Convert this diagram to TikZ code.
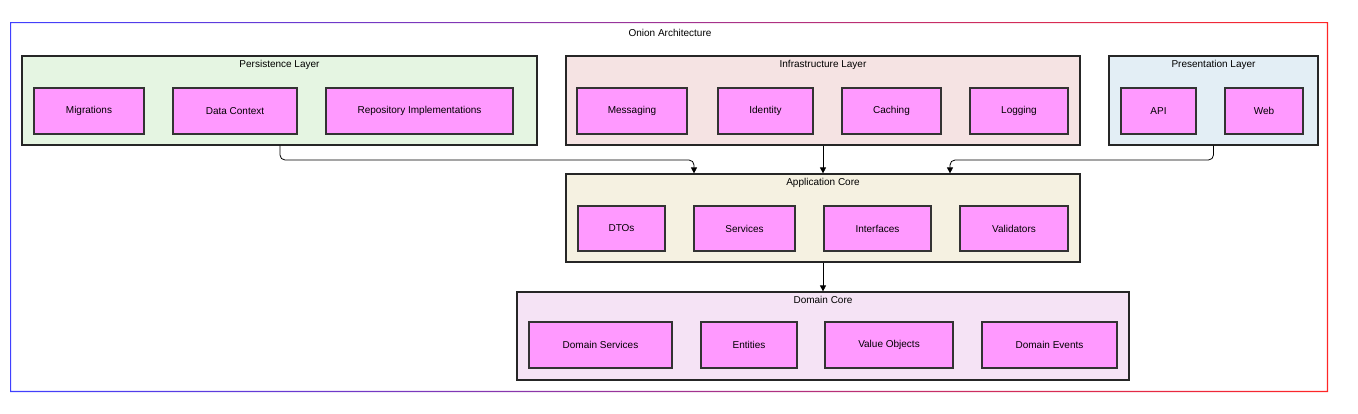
\documentclass[tikz,border=0pt]{standalone}
\usepackage{fontspec}
\setmainfont{Liberation Sans}
\usetikzlibrary{arrows.meta}
\definecolor{compfill}{HTML}{FF99FF}
\definecolor{persfill}{HTML}{E5F5E2}
\definecolor{infrafill}{HTML}{F5E3E3}
\definecolor{presfill}{HTML}{E3EEF5}
\definecolor{appfill}{HTML}{F5F1E1}
\definecolor{domfill}{HTML}{F5E3F5}
\tikzset{
  layer/.style={draw=black!85, line width=1.2pt, inner sep=0pt},
  comp/.style={draw=black!80, line width=1.5pt, fill=compfill, inner sep=0pt},
  title/.style={font=\fontsize{10}{12}\selectfont},
  link/.style={-{Triangle[length=6pt,width=6pt]}, line width=0.8pt, rounded corners=5pt}
}
\newcommand{\boxat}[6]{% name, x1, y1, x2, y2, style
  \node[#6, minimum width={#4-#2}, minimum height={#5-#3}] (#1) at ({(#2+#4)/2},{(#3+#5)/2}) {};}
\begin{document}
\begin{tikzpicture}[x=1pt,y=-1pt, font=\fontsize{10}{12}\selectfont]
		\useasboundingbox (0,0) rectangle (1358,413);
		\shade[left color=blue!75, right color=red!85, even odd rule]
			(10,22) rectangle (1328,392) (11.2,23.2) rectangle (1326.8,390.8);
		\node[title] (onion) at (670,33) {Onion Architecture};
		
		% layers
		\boxat{pers}{22}{56}{537}{145}{layer, fill=persfill}
		\boxat{infra}{566}{56}{1080}{145}{layer, fill=infrafill}
		\boxat{pres}{1109}{56}{1318}{145}{layer, fill=presfill}
		\boxat{app}{566}{174}{1080}{262}{layer, fill=appfill}
		\boxat{dom}{517}{292}{1129}{380}{layer, fill=domfill}
		\node[title] at (279.5,65) {Persistence Layer};
		\node[title] at (823,65) {Infrastructure Layer};
		\node[title] at (1213.5,65) {Presentation Layer};
		\node[title] at (823,183) {Application Core};
		\node[title] at (823,300) {Domain Core};
		
		% components
		\boxat{mig}{34}{88}{144}{134}{comp}
		\boxat{ctx}{173}{88}{297}{134}{comp}
		\boxat{repo}{326}{88}{513}{134}{comp}
		\boxat{msg}{577}{88}{687}{134}{comp}
		\boxat{idn}{718}{88}{813}{134}{comp}
		\boxat{cache}{842}{88}{941}{134}{comp}
		\boxat{logg}{970}{88}{1068}{134}{comp}
		\boxat{api}{1121}{88}{1196}{134}{comp}
		\boxat{web}{1225}{88}{1303}{134}{comp}
		\boxat{dto}{578}{206}{665}{251}{comp}
		\boxat{svc}{694}{206}{795}{251}{comp}
		\boxat{intf}{824}{206}{931}{251}{comp}
		\boxat{val}{960}{206}{1068}{251}{comp}
		\boxat{dsvc}{529}{322}{672}{368}{comp}
		\boxat{ent}{701}{322}{797}{368}{comp}
		\boxat{vobj}{825}{322}{953}{368}{comp}
		\boxat{devt}{982}{322}{1117}{368}{comp}
		\node at (mig) {Migrations};
		\node at (ctx) {Data Context};
		\node at (repo) {Repository Implementations};
		\node at (msg) {Messaging};
		\node at (idn) {Identity};
		\node at (cache) {Caching};
		\node at (logg) {Logging};
		\node at (api) {API};
		\node at (web) {Web};
		\node at (dto) {DTOs};
		\node at (svc) {Services};
		\node at (intf) {Interfaces};
		\node at (val) {Validators};
		\node at (dsvc) {Domain Services};
		\node at (ent) {Entities};
		\node at (vobj) {Value Objects};
		\node at (devt) {Domain Events};
		
		% dependencies
		\draw[link] (pers.south -| 280,0) |- (694,160) -- (app.north -| 694,0);
		\draw[link] (infra.south) -- (app.north);
		\draw[link] (pres.south) |- (950,160) -- (app.north -| 950,0);
		\draw[link] (app.south) -- (dom.north);
	\end{tikzpicture}
\end{document}
